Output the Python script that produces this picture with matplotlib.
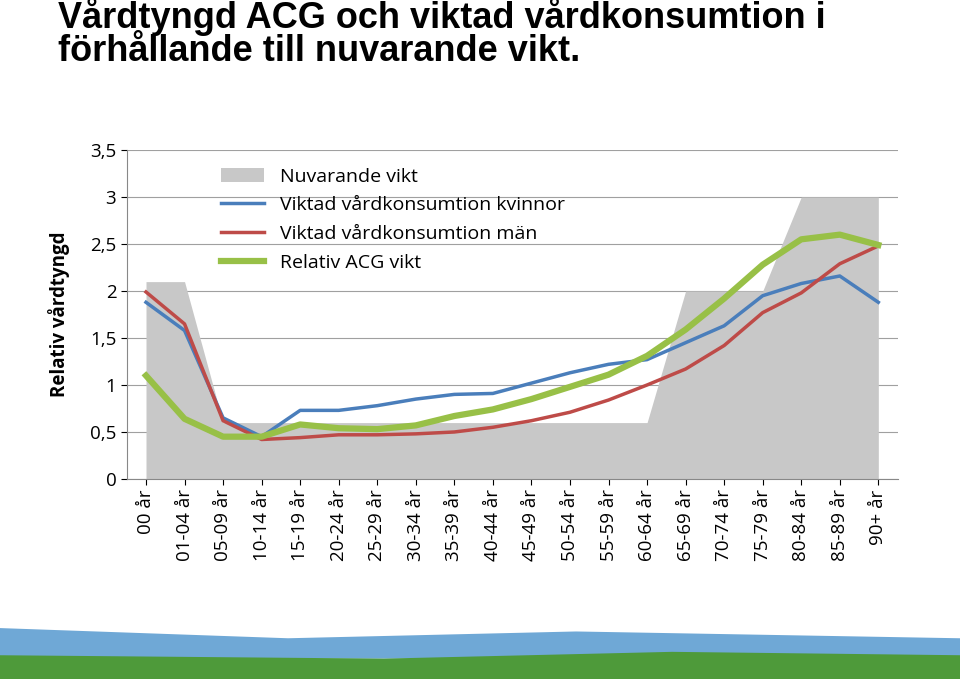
import numpy as np
import matplotlib.pyplot as plt
from matplotlib.patches import Polygon

# åldersgrupper
kategorier = ['00 år', '01-04 år', '05-09 år', '10-14 år', '15-19 år', '20-24 år',
              '25-29 år', '30-34 år', '35-39 år', '40-44 år', '45-49 år', '50-54 år',
              '55-59 år', '60-64 år', '65-69 år', '70-74 år', '75-79 år', '80-84 år',
              '85-89 år', '90+ år']
nuvarande = [2.1, 2.1, 0.6, 0.6, 0.6, 0.6, 0.6, 0.6, 0.6, 0.6, 0.6, 0.6, 0.6, 0.6,
             2.0, 2.0, 2.0, 3.0, 3.0, 3.0]
kvinnor = [1.88, 1.58, 0.65, 0.45, 0.73, 0.73, 0.78, 0.85, 0.90, 0.91, 1.02, 1.13,
           1.22, 1.27, 1.45, 1.63, 1.95, 2.08, 2.16, 1.88]
man = [1.99, 1.65, 0.62, 0.42, 0.44, 0.47, 0.47, 0.48, 0.50, 0.55, 0.62, 0.71,
       0.84, 1.00, 1.17, 1.42, 1.77, 1.98, 2.29, 2.48]
acg = [1.10, 0.64, 0.45, 0.45, 0.58, 0.54, 0.53, 0.57, 0.67, 0.74, 0.85, 0.98,
       1.11, 1.31, 1.59, 1.92, 2.28, 2.55, 2.60, 2.49]
yticks = [0, 0.5, 1, 1.5, 2, 2.5, 3, 3.5]

plt.rcParams['font.family'] = 'Open Sans'
fig = plt.figure(figsize=(9.6, 6.79), dpi=100)
ax = fig.add_axes([0.132, 0.2946, 0.803, 0.4844])
x = np.arange(len(kategorier))

ax.fill_between(x, 0, nuvarande, color='#c8c8c8', lw=0, label='Nuvarande vikt')
ax.plot(x, kvinnor, color='#4a7ebb', lw=2.5, label='Viktad vårdkonsumtion kvinnor')
ax.plot(x, man, color='#be4b48', lw=2.5, label='Viktad vårdkonsumtion män')
ax.plot(x, acg, color='#98c047', lw=4.5, label='Relativ ACG vikt')

ax.set_xlim(-0.5, len(kategorier) - 0.5)
ax.set_ylim(0, 3.5)
ax.set_yticks(yticks)
ax.set_yticklabels([str(v).replace('.', ',') if v % 1 else str(int(v)) for v in yticks],
                   fontsize=13.5)
ax.set_xticks(x)
ax.set_xticklabels(kategorier, rotation=90, fontsize=13.5)
ax.grid(axis='y', color='#a0a0a0', lw=0.8)
ax.set_axisbelow(True)
for s in ['top', 'right']:
    ax.spines[s].set_visible(False)
ax.spines['left'].set_color('#888888')
ax.spines['bottom'].set_color('#888888')
ax.tick_params(colors='black', length=4)
ax.set_ylabel('Relativ vårdtyngd', fontsize=13.5, fontweight='bold', labelpad=14)
ax.legend(loc='upper left', bbox_to_anchor=(0.1, 1.0), frameon=False, fontsize=14,
          handlelength=2.2, labelspacing=0.55)

fig.text(0.06, 1.005, 'Vårdtyngd ACG och viktad vårdkonsumtion i\nförhållande till nuvarande vikt.',
         fontsize=26, fontweight='bold', family='Liberation Sans', va='top', linespacing=0.95)

# dekorativ landskapsremsa längst ned
fig.add_artist(Polygon([(0, 0.03), (0, 0.075), (0.3, 0.06), (0.6, 0.07), (1, 0.06), (1, 0.03)],
                       closed=True, transform=fig.transFigure, color='#6fa8d6', lw=0))
fig.add_artist(Polygon([(0, 0), (0, 0.035), (0.4, 0.03), (0.7, 0.04), (1, 0.035), (1, 0)],
                       closed=True, transform=fig.transFigure, color='#4e9a3a', lw=0))

fig.savefig('out.png', dpi=100)
